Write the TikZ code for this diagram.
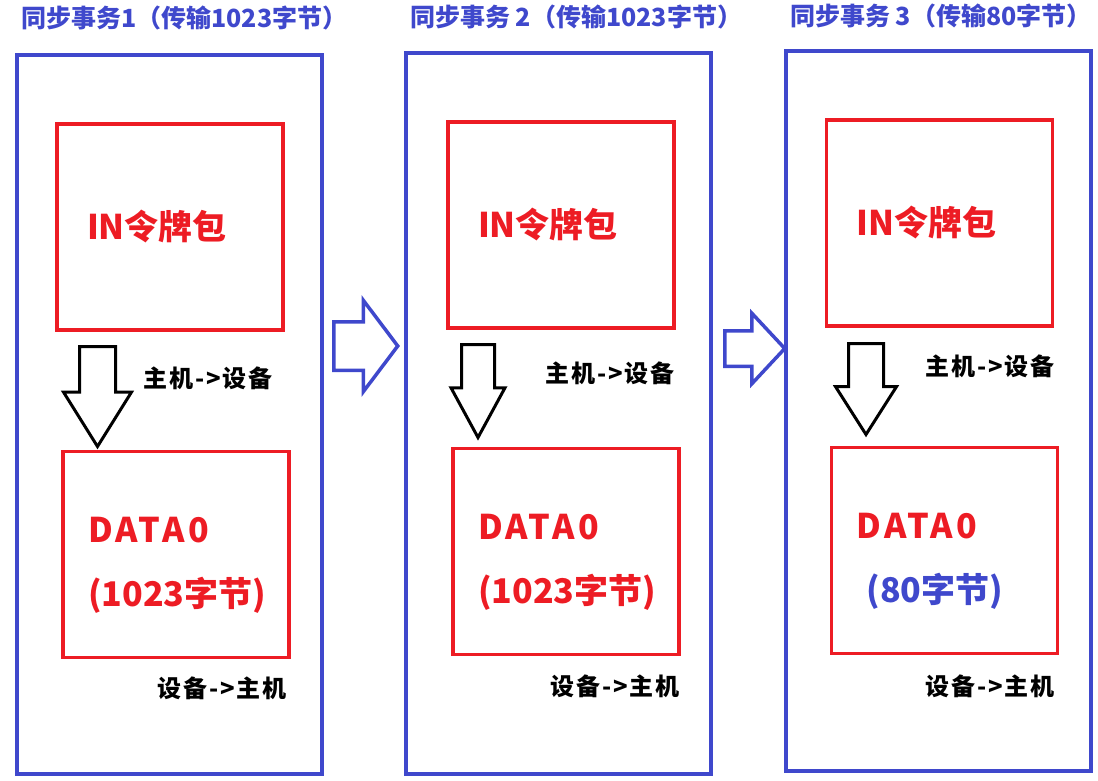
\documentclass[tikz,border=0pt]{standalone}
\usepackage{fontspec}
\newfontfamily\cjk{Noto Sans CJK SC}
\usetikzlibrary{shapes.arrows}
\definecolor{txblue}{RGB}{63,72,204}
\definecolor{pktred}{RGB}{237,28,36}

\begin{document}
\begin{tikzpicture}[
    x=1pt, y=-1pt,
    frame/.style={rectangle, draw=txblue, line width=4.5pt, minimum width=305pt, minimum height=#1},
    title/.style={anchor=west, text=txblue, inner sep=0pt, font=\cjk\bfseries\fontsize{25}{25}\selectfont},
    pkt/.style={rectangle, draw=pktred, line width=3.5pt, minimum width=226pt, minimum height=206pt,
        text=pktred, align=left, inner xsep=#1, text width=226pt-2*#1, inner ysep=0pt,
        font=\cjk\bfseries\fontsize{34}{64}\selectfont},
    pkt/.default=30pt,
    dir/.style={anchor=west, inner sep=0pt, font=\cjk\bfseries\fontsize{24}{24}\selectfont\addfontfeature{LetterSpace=8}},
    down/.style={single arrow, draw=black, line width=3pt, inner xsep=0pt, rotate=-90, anchor=tail},
    next/.style={single arrow, draw=txblue, line width=3.5pt, inner xsep=0pt, anchor=tail}
]
\useasboundingbox (0,0) rectangle (1098,781);

% Transactions
\node[frame=719pt] (t1) at (169.5,414.5) {};
\node[frame=721pt] (t2) at (558.5,413.5) {};
\node[frame=720pt] (t3) at (938.5,411) {};

% Titles
\node[title] (h1) at (21,18) {同步事务1（传输1023字节）};
\node[title] (h2) at (410,17) {同步事务 2（传输1023字节）};
\node[title] (h3) at (790,16) {同步事务 3（传输80字节）};

% IN tokens
\node[pkt] (in1) at (170,227) {IN令牌包};
\node[pkt] (in2) at (561,225) {IN令牌包};
\node[pkt] (in3) at (939.5,223) {IN令牌包};

% DATA0 packets
\node[pkt=25pt] (d1) at (176,554.5) {\rule{0pt}{46pt}{\addfontfeature{LetterSpace=10}DATA0}\\(1023字节)};
\node[pkt=25pt] (d2) at (566,551.5) {\rule{0pt}{46pt}{\addfontfeature{LetterSpace=10}DATA0}\\(1023字节)};
\node[pkt=25pt] (d3) at (944.5,550.5) {\rule{0pt}{46pt}{\addfontfeature{LetterSpace=10}DATA0}\\\hspace*{10pt}\textcolor{txblue}{(80字节)}};

% Host -> device
\node[down, minimum height=100pt, inner ysep=16.5pt, single arrow head extend=16pt,
    single arrow tip angle=64] (a1) at (97.5,345) {};
\node[down, minimum height=93pt, inner ysep=15pt, single arrow head extend=10.5pt,
    single arrow tip angle=57] (a2) at (478,343) {};
\node[down, minimum height=91pt, inner ysep=16pt, single arrow head extend=13pt,
    single arrow tip angle=65] (a3) at (866,342) {};
\node[dir] (hd1) at (143,378) {主机->设备};
\node[dir] (hd2) at (545,373) {主机->设备};
\node[dir] (hd3) at (925,366) {主机->设备};

% Device -> host
\node[dir] (dh1) at (157,688) {设备->主机};
\node[dir] (dh2) at (550,686) {设备->主机};
\node[dir] (dh3) at (925,686) {设备->主机};

% Between transactions
\node[next, minimum height=64pt, inner ysep=22.5pt, single arrow head extend=21.5pt,
    single arrow tip angle=106] (n1) at (332,346) {};
\node[next, minimum height=60pt, inner ysep=16pt, single arrow head extend=17.5pt,
    single arrow tip angle=94] (n2) at (723,348.5) {};

\end{tikzpicture}
\end{document}
